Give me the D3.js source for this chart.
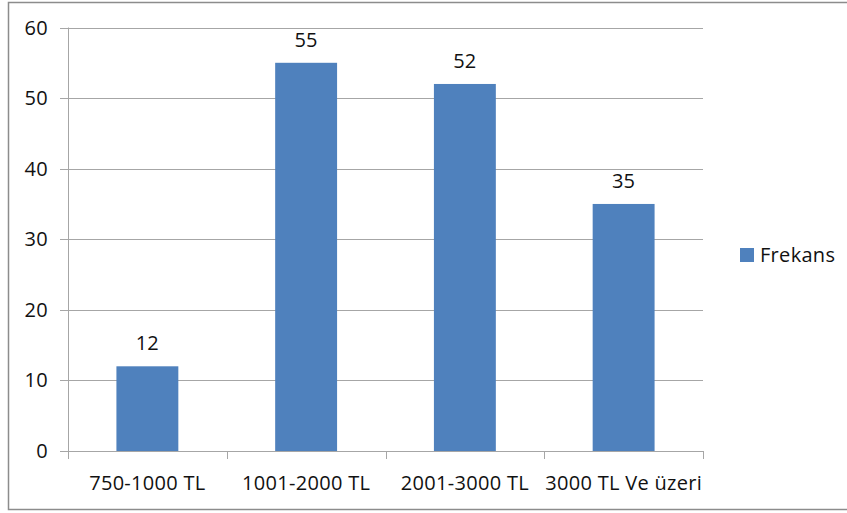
<!DOCTYPE html>
<html lang="tr">
<head>
<meta charset="utf-8">
<title>Frekans</title>
<script src="https://cdn.jsdelivr.net/npm/d3@7"></script>
<style>
  body { margin: 0; background: #fff; }
  svg text { font-family: "Open Sans", "Noto Sans", sans-serif; fill: #111; font-size: 20px; letter-spacing: 0.3px; }
</style>
</head>
<body>
<script>
// chart data
var categories = ["750-1000 TL", "1001-2000 TL", "2001-3000 TL", "3000 TL Ve üzeri"];
var values = [12, 55, 52, 35];
var yTicks = [0, 10, 20, 30, 40, 50, 60];
var seriesName = "Frekans";

var w = 847, h = 513;
var plotLeft = 68, plotRight = 703, plotTop = 27.5, plotBottom = 451;

var svg = d3.select("body").append("svg")
  .attr("width", w)
  .attr("height", h);

// outer chart border
svg.append("rect")
  .attr("x", 8.5).attr("y", 2.5)
  .attr("width", 845).attr("height", 507)
  .attr("fill", "none")
  .attr("stroke", "#8c8c8c")
  .attr("stroke-width", 1.5);

var x = d3.scaleBand()
  .domain(categories)
  .range([plotLeft, plotRight])
  .paddingInner(0.61)
  .paddingOuter(0.305);

var y = d3.scaleLinear()
  .domain([0, 60])
  .range([plotBottom, plotTop]);

// gridlines
svg.append("g")
  .selectAll("line")
  .data(yTicks)
  .enter().append("line")
  .attr("x1", plotLeft - 8)
  .attr("x2", plotRight)
  .attr("y1", function(d) { return Math.round(y(d)) + 0.5; })
  .attr("y2", function(d) { return Math.round(y(d)) + 0.5; })
  .attr("stroke", "#a6a6a6")
  .attr("stroke-width", 1);

// y axis line
svg.append("line")
  .attr("x1", plotLeft + 0.5).attr("x2", plotLeft + 0.5)
  .attr("y1", plotTop).attr("y2", plotBottom + 1)
  .attr("stroke", "#a6a6a6");

// y tick labels
svg.append("g")
  .selectAll("text")
  .data(yTicks)
  .enter().append("text")
  .attr("x", 48)
  .attr("y", function(d) { return y(d); })
  .attr("dy", "0.35em")
  .attr("text-anchor", "end")
  .text(function(d) { return d; });

// category separators on the x axis
var step = x.step();
svg.append("g")
  .selectAll("line")
  .data(d3.range(categories.length + 1))
  .enter().append("line")
  .attr("x1", function(i) { return Math.round(plotLeft + i * step) + 0.5; })
  .attr("x2", function(i) { return Math.round(plotLeft + i * step) + 0.5; })
  .attr("y1", plotBottom)
  .attr("y2", plotBottom + 8)
  .attr("stroke", "#a6a6a6");

// bars
svg.append("g")
  .selectAll("rect")
  .data(values)
  .enter().append("rect")
  .attr("x", function(d, i) { return x(categories[i]); })
  .attr("y", function(d) { return y(d); })
  .attr("width", x.bandwidth())
  .attr("height", function(d) { return plotBottom - y(d); })
  .attr("fill", "#4f81bd");

// value labels
svg.append("g")
  .selectAll("text")
  .data(values)
  .enter().append("text")
  .attr("x", function(d, i) { return x(categories[i]) + x.bandwidth() / 2; })
  .attr("y", function(d) { return y(d) - 16; })
  .attr("text-anchor", "middle")
  .text(function(d) { return d; });

// category labels
svg.append("g")
  .selectAll("text")
  .data(categories)
  .enter().append("text")
  .attr("x", function(d) { return x(d) + x.bandwidth() / 2; })
  .attr("y", 490)
  .attr("text-anchor", "middle")
  .text(function(d) { return d; });

// legend
svg.append("rect")
  .attr("x", 740).attr("y", 248)
  .attr("width", 14).attr("height", 14)
  .attr("fill", "#4f81bd");
svg.append("text")
  .attr("x", 760).attr("y", 255)
  .attr("dy", "0.35em")
  .text(seriesName);
</script>
</body>
</html>
